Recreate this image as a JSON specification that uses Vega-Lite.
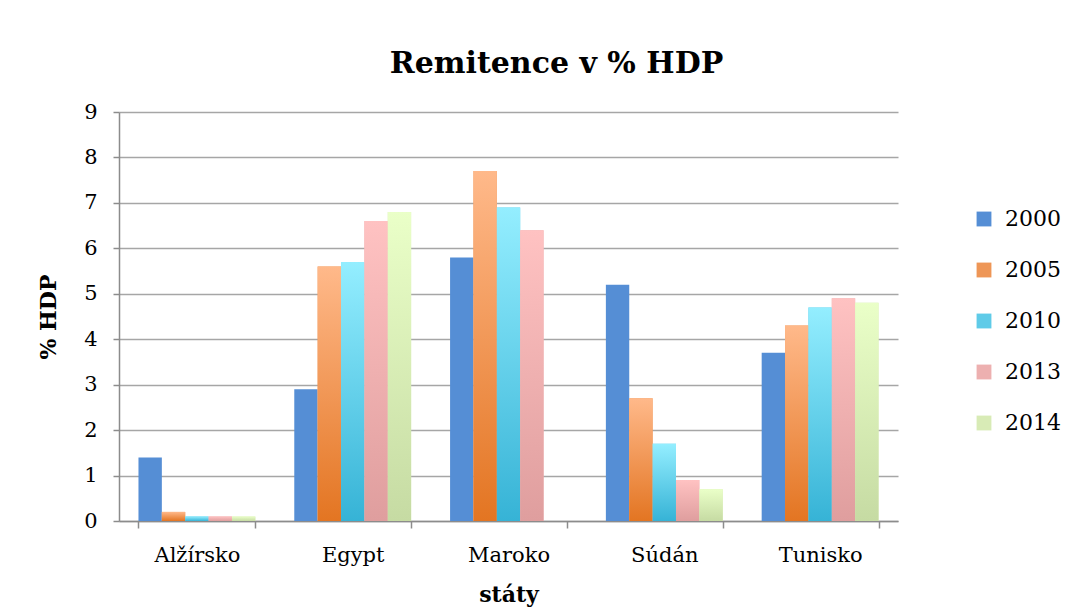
{
  "$schema": "https://vega.github.io/schema/vega-lite/v6.json",
  "width": 779,
  "height": 409,
  "padding": {"left": 37, "top": 49, "right": 5, "bottom": 5},
  "background": "white",
  "title": {
    "text": "Remitence v % HDP",
    "font": "DejaVu Serif",
    "fontSize": 30,
    "fontWeight": "bold",
    "color": "#000000",
    "anchor": "middle",
    "dx": 48,
    "offset": 22
  },
  "data": {
    "values": [
      {"stat": "Alžírsko", "rok": "2000", "hodnota": 1.4},
      {"stat": "Alžírsko", "rok": "2005", "hodnota": 0.2},
      {"stat": "Alžírsko", "rok": "2010", "hodnota": 0.1},
      {"stat": "Alžírsko", "rok": "2013", "hodnota": 0.1},
      {"stat": "Alžírsko", "rok": "2014", "hodnota": 0.1},
      {"stat": "Egypt", "rok": "2000", "hodnota": 2.9},
      {"stat": "Egypt", "rok": "2005", "hodnota": 5.6},
      {"stat": "Egypt", "rok": "2010", "hodnota": 5.7},
      {"stat": "Egypt", "rok": "2013", "hodnota": 6.6},
      {"stat": "Egypt", "rok": "2014", "hodnota": 6.8},
      {"stat": "Maroko", "rok": "2000", "hodnota": 5.8},
      {"stat": "Maroko", "rok": "2005", "hodnota": 7.7},
      {"stat": "Maroko", "rok": "2010", "hodnota": 6.9},
      {"stat": "Maroko", "rok": "2013", "hodnota": 6.4},
      {"stat": "Súdán", "rok": "2000", "hodnota": 5.2},
      {"stat": "Súdán", "rok": "2005", "hodnota": 2.7},
      {"stat": "Súdán", "rok": "2010", "hodnota": 1.7},
      {"stat": "Súdán", "rok": "2013", "hodnota": 0.9},
      {"stat": "Súdán", "rok": "2014", "hodnota": 0.7},
      {"stat": "Tunisko", "rok": "2000", "hodnota": 3.7},
      {"stat": "Tunisko", "rok": "2005", "hodnota": 4.3},
      {"stat": "Tunisko", "rok": "2010", "hodnota": 4.7},
      {"stat": "Tunisko", "rok": "2013", "hodnota": 4.9},
      {"stat": "Tunisko", "rok": "2014", "hodnota": 4.8}
    ]
  },
  "encoding": {
    "x": {
      "field": "stat",
      "type": "nominal",
      "sort": ["Alžírsko", "Egypt", "Maroko", "Súdán", "Tunisko"],
      "scale": {"paddingInner": 0.25, "paddingOuter": 0.125},
      "axis": {
        "title": "státy",
        "titleFont": "DejaVu Serif",
        "titleFontSize": 22,
        "titleFontWeight": "bold",
        "titleColor": "#000000",
        "titlePadding": 19,
        "labelFont": "DejaVu Serif",
        "labelFontSize": 21,
        "labelColor": "#000000",
        "labelAngle": 0,
        "labelPadding": 16,
        "tickBand": "extent",
        "tickColor": "#8C8C8C",
        "tickSize": 7,
        "tickWidth": 1.5,
        "domainColor": "#8C8C8C",
        "domainWidth": 1.5
      }
    },
    "xOffset": {
      "field": "rok",
      "type": "nominal",
      "sort": ["2000", "2005", "2010", "2013", "2014"],
      "scale": {"paddingInner": 0, "paddingOuter": 0}
    },
    "y": {
      "field": "hodnota",
      "type": "quantitative",
      "scale": {"domain": [0, 9], "nice": false},
      "axis": {
        "title": "% HDP",
        "titleFont": "DejaVu Serif",
        "titleFontSize": 22,
        "titleFontWeight": "bold",
        "titleColor": "#000000",
        "titlePadding": 23,
        "labelFont": "DejaVu Serif",
        "labelFontSize": 21,
        "labelColor": "#000000",
        "labelPadding": 16,
        "values": [0, 1, 2, 3, 4, 5, 6, 7, 8, 9],
        "grid": true,
        "gridColor": "#A6A6A6",
        "gridWidth": 1.5,
        "tickColor": "#8C8C8C",
        "tickSize": 6,
        "tickWidth": 1.5,
        "domainColor": "#8C8C8C",
        "domainWidth": 1.5
      }
    }
  },
  "layer": [
    {
      "mark": {"type": "bar", "stroke": null},
      "encoding": {
        "color": {
          "field": "rok",
          "type": "nominal",
          "sort": ["2000", "2005", "2010", "2013", "2014"],
          "scale": {
            "domain": ["2000", "2005", "2010", "2013", "2014"],
            "range": ["#558ED5", "#EE9656", "#5FCBE8", "#EDB0B0", "#D8EBB6"]
          },
          "legend": {
            "title": null,
            "orient": "none",
            "legendX": 854,
            "legendY": 96,
            "symbolType": "square",
            "symbolSize": 220,
            "symbolStrokeWidth": 0,
            "labelFont": "DejaVu Serif",
            "labelFontSize": 22,
            "labelColor": "#000000",
            "labelOffset": 10,
            "rowPadding": 29,
            "labelLimit": 200
          }
        }
      }
    },
    {
      "transform": [{"filter": "datum.rok == '2005'"}],
      "mark": {
        "type": "bar",
        "stroke": null,
        "fill": {"gradient": "linear", "x1": 0, "y1": 0, "x2": 0, "y2": 1,
          "stops": [{"offset": 0, "color": "#FFB98A"}, {"offset": 1, "color": "#E37522"}]}
      }
    },
    {
      "transform": [{"filter": "datum.rok == '2010'"}],
      "mark": {
        "type": "bar",
        "stroke": null,
        "fill": {"gradient": "linear", "x1": 0, "y1": 0, "x2": 0, "y2": 1,
          "stops": [{"offset": 0, "color": "#94EEFF"}, {"offset": 1, "color": "#36B3D6"}]}
      }
    },
    {
      "transform": [{"filter": "datum.rok == '2013'"}],
      "mark": {
        "type": "bar",
        "stroke": null,
        "fill": {"gradient": "linear", "x1": 0, "y1": 0, "x2": 0, "y2": 1,
          "stops": [{"offset": 0, "color": "#FFC2C2"}, {"offset": 1, "color": "#DF9E9E"}]}
      }
    },
    {
      "transform": [{"filter": "datum.rok == '2014'"}],
      "mark": {
        "type": "bar",
        "stroke": null,
        "fill": {"gradient": "linear", "x1": 0, "y1": 0, "x2": 0, "y2": 1,
          "stops": [{"offset": 0, "color": "#EAFFC8"}, {"offset": 1, "color": "#C6DBA3"}]}
      }
    }
  ],
  "config": {
    "view": {"stroke": null}
  }
}
